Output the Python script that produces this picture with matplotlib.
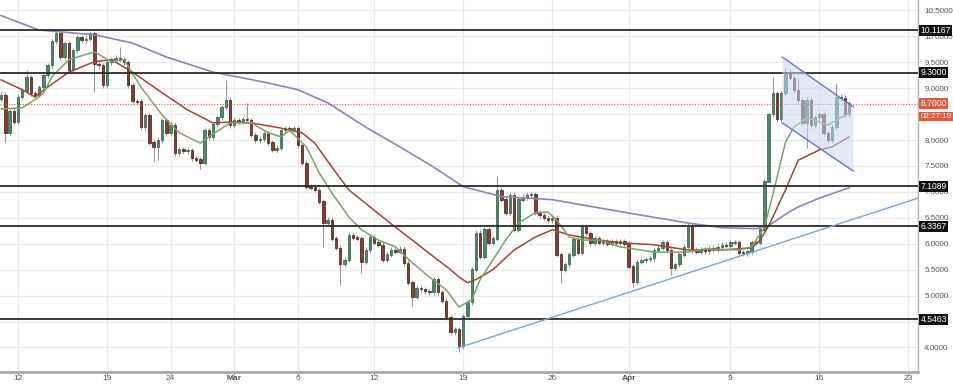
import matplotlib
matplotlib.use("Agg")
import matplotlib.pyplot as plt
import matplotlib.dates as mdates
import matplotlib.transforms as mtransforms
from matplotlib.patches import Polygon
import numpy as np
import pandas as pd

plt.rcParams['font.family'] = ['Liberation Sans', 'DejaVu Sans']

# 8-hour candles, first one opens 2018-02-10 16:00
start = "2018-02-10 16:00"
first_open = 8.80
closes = [
    8.87, 8.13, 8.55, 8.35, 8.83, 8.95, 9.21, 8.90, 8.87, 9.02,
    9.25, 9.44, 9.90, 10.06, 9.60, 9.86, 9.35, 9.73, 9.98, 9.92,
    9.95, 10.06, 9.46, 9.44, 9.06, 9.50, 9.55, 9.58, 9.56, 9.50,
    9.06, 8.75, 8.74, 8.25, 8.48, 7.95, 7.87, 8.00, 8.38, 8.13,
    8.29, 7.75, 7.82, 7.78, 7.80, 7.65, 7.62, 7.56, 8.19, 8.06,
    8.30, 8.44, 8.63, 8.77, 8.29, 8.38, 8.35, 8.40, 8.38, 8.10,
    8.00, 8.02, 8.13, 7.95, 7.81, 7.85, 8.19, 8.22, 8.20, 8.23,
    7.90, 7.56, 7.10, 7.08, 7.04, 6.81, 6.40, 6.46, 6.10, 5.92,
    5.60, 5.69, 6.17, 6.12, 6.10, 5.65, 5.88, 6.13, 6.02, 5.98,
    5.69, 5.79, 5.88, 5.85, 5.90, 5.63, 5.25, 4.98, 5.15, 5.12,
    5.08, 5.06, 5.31, 5.06, 4.90, 4.58, 4.29, 4.35, 4.02, 4.60,
    4.87, 5.50, 6.21, 5.75, 6.27, 6.02, 6.10, 7.04, 6.85, 6.60,
    6.94, 6.27, 6.85, 6.90, 6.94, 6.95, 6.60, 6.55, 6.50, 6.45,
    6.50, 5.79, 5.50, 5.60, 5.79, 6.08, 5.83, 6.33, 6.20, 6.02,
    6.10, 6.02, 6.05, 6.00, 6.04, 6.02, 6.05, 6.00, 5.56, 5.27,
    5.65, 5.68, 5.70, 5.72, 5.88, 5.92, 6.02, 5.88, 5.54, 5.60,
    5.79, 5.94, 6.33, 5.88, 5.85, 5.88, 5.86, 5.92, 5.90, 5.94,
    5.98, 5.96, 6.02, 6.02, 5.83, 5.82, 5.85, 6.02, 6.02, 6.27,
    7.20, 8.50, 8.90, 8.40, 8.90, 9.31, 9.20, 8.96, 8.77, 8.33,
    8.77, 8.29, 8.44, 8.50, 8.13, 8.00, 8.25, 8.83, 8.81, 8.50,
    8.70,
]
wick = 0.05
long_highs = {6: 9.35, 13: 10.12, 21: 10.10, 28: 9.79, 53: 9.15, 58: 8.71,
              117: 7.30, 162: 6.42, 182: 9.21, 185: 9.40, 188: 9.20, 197: 9.10}
long_lows = {1: 7.97, 22: 8.92, 36: 7.58, 37: 7.62, 47: 7.45, 76: 5.94,
             80: 5.21, 85: 5.44, 97: 4.79, 108: 3.92, 132: 5.25, 149: 5.17,
             158: 5.40, 181: 7.90, 190: 7.85}

# moving averages (candle index, value)
ma_fast_idx = [0, 5, 8, 10, 12, 16, 22, 26, 29, 33, 38, 42, 47, 49, 54, 59, 63, 66, 68, 72,
               75, 78, 82, 85, 89, 93, 97, 101, 105, 108, 111, 113, 116, 119, 122, 126, 129,
               131, 134, 137, 141, 146, 154, 162, 166, 174, 177, 180, 182, 185, 187, 190,
               193, 195, 198, 200]
ma_fast = [8.60, 8.62, 8.78, 8.90, 9.22, 9.55, 9.70, 9.51, 9.55, 9.02, 8.48, 8.14, 7.94, 8.06,
           8.33, 8.33, 8.14, 8.06, 8.19, 7.87, 7.37, 6.98, 6.52, 6.27, 6.07, 5.94, 5.63, 5.36,
           5.11, 4.78, 4.92, 5.31, 5.69, 6.07, 6.40, 6.60, 6.61, 6.46, 6.13, 6.07, 6.07, 5.94,
           5.84, 5.84, 5.90, 5.88, 5.94, 6.31, 6.94, 7.96, 8.25, 8.43, 8.35, 8.29, 8.43, 8.52]
ma_mid_idx = [0, 5, 8, 11, 16, 22, 26, 31, 38, 44, 50, 55, 59, 66, 71, 74, 78, 82, 87, 93,
              97, 102, 106, 108, 110, 112, 116, 121, 126, 130, 134, 141, 146, 154, 162, 170,
              177, 179, 181, 185, 188, 193, 196, 200]
ma_mid = [9.16, 8.97, 8.83, 9.02, 9.31, 9.51, 9.55, 9.31, 8.91, 8.58, 8.33, 8.35, 8.33, 8.23,
          8.14, 7.94, 7.48, 7.04, 6.71, 6.32, 6.07, 5.75, 5.50, 5.36, 5.25, 5.31, 5.50, 5.88,
          6.13, 6.27, 6.17, 6.07, 6.02, 5.98, 5.88, 5.88, 5.92, 6.07, 6.34, 7.04, 7.61, 7.81,
          7.87, 8.06]
ma_slow_idx = [0, 9, 22, 31, 39, 50, 63, 70, 77, 86, 94, 102, 109, 118, 130, 146, 162, 170,
               178, 181, 186, 188, 193, 200]
ma_slow = [10.40, 10.12, 10.03, 9.87, 9.60, 9.31, 9.10, 8.97, 8.72, 8.25, 7.87, 7.48, 7.10,
           6.91, 6.85, 6.62, 6.40, 6.31, 6.29, 6.35, 6.62, 6.71, 6.88, 7.08]

levels = [10.1167, 9.3000, 7.1089, 6.3367, 4.5463]
last_price = 8.70
countdown = "02:27:19"

trend_dates = ["2018-03-18 14:00", "2018-04-23 18:00"]
trend_vals = [3.99, 6.88]

channel_dates = ["2018-04-13 02:00", "2018-04-18 16:00"]
channel_top = [9.60, 8.64]
channel_bot = [8.33, 7.40]

tick_dates = ["2018-02-12", "2018-02-19", "2018-02-24", "2018-03-01", "2018-03-06",
              "2018-03-12", "2018-03-19", "2018-03-26", "2018-04-01", "2018-04-09",
              "2018-04-16", "2018-04-23"]
tick_labels = ["12", "19", "24", "Mar", "6", "12", "19", "26", "Apr", "9", "16", "23"]
xlim_dates = ["2018-02-10 14:00", "2018-04-23 18:00"]

# --- build OHLC
times = mdates.date2num(pd.date_range(start, periods=len(closes), freq="8h"))
opens = [first_open] + closes[:-1]
highs = [max(o, c) + wick for o, c in zip(opens, closes)]
lows = [min(o, c) - wick for o, c in zip(opens, closes)]
for i, v in long_highs.items():
    highs[i] = v
for i, v in long_lows.items():
    lows[i] = v
opens = np.array(opens)
closes_a = np.array(closes)
up = closes_a >= opens

fig = plt.figure(figsize=(9.54, 3.85), dpi=100)
ax = fig.add_axes([0, 13 / 385, 918 / 954, 372 / 385])

ax.vlines(times, lows, highs, color="#9a9a9a", lw=0.8, zorder=2)
body_w = 0.19
ax.bar(times[up], (closes_a - opens)[up] + 0.005, bottom=opens[up], width=body_w,
       color="#4a8a68", edgecolor="#2c5b43", lw=0.5, zorder=3)
ax.bar(times[~up], (opens - closes_a)[~up] + 0.005, bottom=closes_a[~up], width=body_w,
       color="#8a3a2e", edgecolor="#3e1c16", lw=0.5, zorder=3)

# moving averages
ax.plot(times[ma_slow_idx], ma_slow, color="#8c86b8", lw=1.2, zorder=4)
ax.plot(times[ma_mid_idx], ma_mid, color="#a3443c", lw=1.1, zorder=4)
ax.plot(times[ma_fast_idx], ma_fast, color="#7da36a", lw=1.1, zorder=4)

# horizontal levels
for lv in levels:
    ax.axhline(lv, color="#2b2b2b", lw=1.3, zorder=5)
ax.axhline(last_price, color="#d9603b", lw=0.8, ls=(0, (1, 1.5)), zorder=5)

# rising trend line
td = mdates.date2num(pd.to_datetime(trend_dates))
ax.plot(td, trend_vals, color="#7aa6d6", lw=1.0, zorder=5)

# descending channel
cd = mdates.date2num(pd.to_datetime(channel_dates))
poly = Polygon([(cd[0], channel_top[0]), (cd[1], channel_top[1]),
                (cd[1], channel_bot[1]), (cd[0], channel_bot[0])],
               closed=True, facecolor="#c9d8f2", alpha=0.55, edgecolor="none", zorder=6)
ax.add_patch(poly)
ax.plot(cd, channel_top, color="#6c74c4", lw=1.0, zorder=6)
ax.plot(cd, channel_bot, color="#6c74c4", lw=1.0, zorder=6)

# axes styling
xl = mdates.date2num(pd.to_datetime(xlim_dates))
ax.set_xlim(xl[0], xl[1])
ax.set_ylim(3.527, 10.70)
ax.set_xticks(mdates.date2num(pd.to_datetime(tick_dates)))
ax.set_xticklabels(tick_labels)
for lab in ax.get_xticklabels():
    if lab.get_text() in ("Mar", "Apr"):
        lab.set_fontweight("bold")
        lab.set_color("#444444")
yt = np.arange(4.0, 10.51, 0.5)
ax.set_yticks(yt)
ax.set_yticklabels([f"{v:.4f}" for v in yt])
ax.yaxis.tick_right()
ax.tick_params(axis="y", labelsize=5.8, colors="#555555", length=0, pad=4.5)
ax.tick_params(axis="x", labelsize=6.0, colors="#555555", length=2, width=0.8, pad=0.5,
               color="#999999")
ax.grid(True, color="#ececec", lw=0.8, zorder=0)
ax.set_axisbelow(True)
for s in ("top", "left"):
    ax.spines[s].set_visible(False)
ax.spines["right"].set_color("#b5b5b5")
ax.spines["right"].set_linewidth(1.0)
ax.spines["bottom"].set_color("#a8a8a8")
ax.spines["bottom"].set_linewidth(2.0)

# price labels on the right axis
trans = mtransforms.blended_transform_factory(ax.transAxes, ax.transData)
lx = 1.0 + 2.5 / 918
lab_fs = 6.2
for lv in levels:
    ax.text(lx, lv, f"{lv:.4f}", transform=trans, ha="left", va="center", fontsize=lab_fs,
            color="white", clip_on=False, zorder=10,
            bbox=dict(boxstyle="square,pad=0.12", fc="#111111", ec="none"))
red = "#e25c3b"
ax.text(lx, last_price, f"{last_price:.4f}", transform=trans, ha="left", va="center",
        fontsize=lab_fs, color="white", clip_on=False, zorder=10,
        bbox=dict(boxstyle="square,pad=0.12", fc=red, ec="none"))
trans_down = mtransforms.offset_copy(trans, fig=fig, y=-9.0, units="points")
ax.text(lx, last_price, countdown, transform=trans_down, ha="left", va="center",
        fontsize=5.8, color="white", clip_on=False, zorder=10,
        bbox=dict(boxstyle="square,pad=0.14", fc=red, ec="none"))

fig.savefig("out.png", dpi=100)
